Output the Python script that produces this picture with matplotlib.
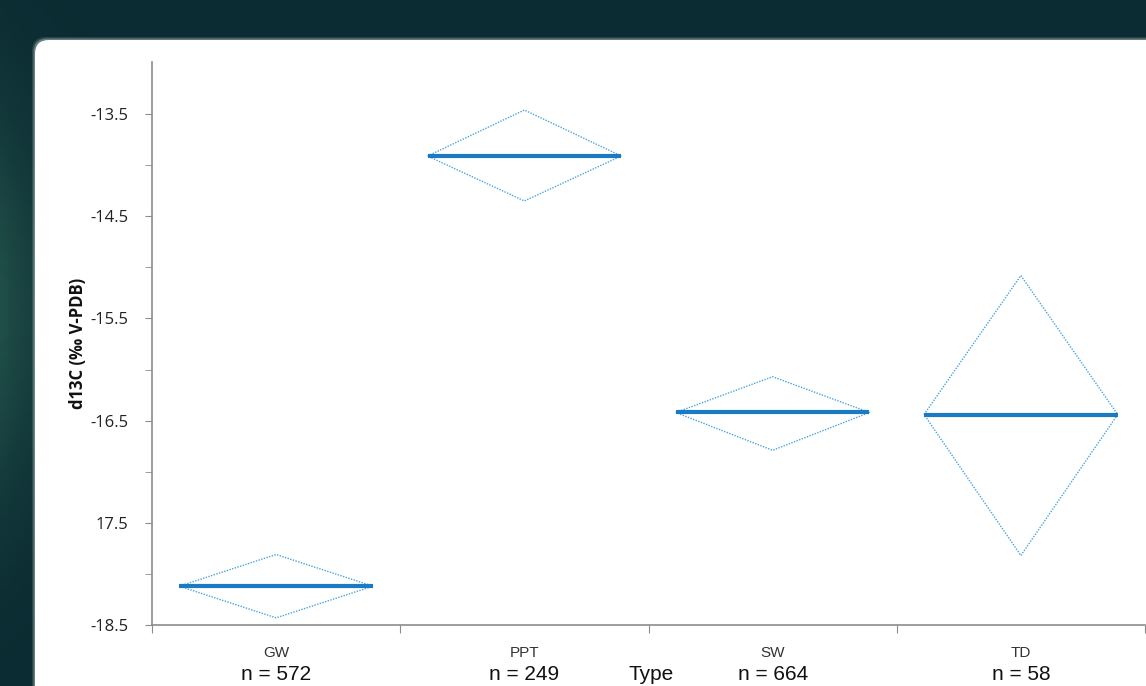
import numpy as np
import matplotlib.pyplot as plt
from matplotlib.patches import FancyBboxPatch, Polygon
from matplotlib.ticker import FixedLocator, FixedFormatter, NullFormatter

# data
types = ["GW", "PPT", "SW", "TD"]
n_counts = [572, 249, 664, 58]
means = [-18.12, -13.91, -16.42, -16.44]
upper = [-17.81, -13.46, -16.07, -15.08]
lower = [-18.43, -14.35, -16.79, -17.82]

ytick_vals = [-13.5, -14.5, -15.5, -16.5, -17.5, -18.5]
ytick_text = ["-13.5", "-14.5", "-15.5", "-16.5", "17.5", "-18.5"]

W, H = 1146, 686
fig = plt.figure(figsize=(W / 100, H / 100), dpi=100)

# dark slide background with a soft gradient
bg = fig.add_axes([0, 0, 1, 1])
bg.set_axis_off()
yy, xx = np.mgrid[0:1:200j, 0:1:300j]
base = np.array([11, 44, 50]) / 255.0
light = np.array([32, 78, 72]) / 255.0
t = np.clip(np.exp(-((yy - 0.45) ** 2) / 0.08) * np.exp(-xx / 0.05), 0, 1)
img = base[None, None, :] * (1 - t[..., None]) + light[None, None, :] * t[..., None]
bg.imshow(img, extent=[0, W, H, 0], aspect="auto")
bg.set_xlim(0, W)
bg.set_ylim(H, 0)

# white card with a slightly soft edge
for grow, a in [(3, 0.12), (1.5, 0.3), (0, 1.0)]:
    card = FancyBboxPatch((35 - grow, 40 - grow), 1200, 700,
                          boxstyle="round,pad=0,rounding_size=14",
                          fc="white", ec="none", alpha=a)
    bg.add_patch(card)

ax = fig.add_axes([152 / W, (H - 625) / H, (1145 - 152) / W, (625 - 62) / H])
ax.set_facecolor("none")
ax.set_xlim(-0.5, 3.5)
ax.set_ylim(-18.5, -12.99)

half_w = 0.39
for i, (m, up, lo) in enumerate(zip(means, upper, lower)):
    pts = [(i - half_w, m), (i, up), (i + half_w, m), (i, lo)]
    ax.add_patch(Polygon(pts, closed=True, fill=False, ec="#4aa3e0",
                         lw=1.0, ls=(0, (1, 1))))
    ax.plot([i - half_w, i + half_w], [m, m], color="#1a7ac4", lw=3,
            solid_capstyle="butt")

for s in ["top", "right"]:
    ax.spines[s].set_visible(False)
for s in ["left", "bottom"]:
    ax.spines[s].set_color("#8c8c8c")
    ax.spines[s].set_linewidth(1.2)

ax.yaxis.set_major_locator(FixedLocator(ytick_vals))
ax.yaxis.set_major_formatter(FixedFormatter(ytick_text))
ax.yaxis.set_minor_locator(FixedLocator([-14, -15, -16, -17, -18]))
ax.tick_params(axis="y", which="both", length=5, color="#8c8c8c",
               labelsize=12, pad=12, labelcolor="#222222")
ax.tick_params(axis="x", length=6, color="#8c8c8c")
ax.xaxis.set_major_locator(FixedLocator([-0.5, 0.5, 1.5, 2.5, 3.5]))
ax.xaxis.set_major_formatter(NullFormatter())
for lab in ax.get_yticklabels():
    lab.set_family(["Open Sans", "DejaVu Sans"])

# category labels and counts under the axis
for i, (name, n) in enumerate(zip(types, n_counts)):
    ax.annotate(name, (i, -18.5), xytext=(0, -28), textcoords="offset pixels",
                ha="center", va="center", fontsize=11, color="#333333",
                family=["Liberation Sans Narrow", "Liberation Sans"])
    ax.annotate(f"n = {n}", (i, -18.5), xytext=(0, -49), textcoords="offset pixels",
                ha="center", va="center", fontsize=15, color="#111111",
                family=["Liberation Sans Narrow", "Liberation Sans"])

fig.text(651 / W, 1 - 674 / H, "Type", ha="center", va="center", fontsize=15,
         color="#111111", family=["Liberation Sans Narrow", "Liberation Sans"])
fig.text(78 / W, 1 - 343 / H, "d13C (‰ V-PDB)", rotation=90, ha="center",
         va="center", fontsize=12, fontweight="bold", color="#111111",
         family=["Open Sans", "DejaVu Sans"])

fig.savefig("out.png", dpi=100)
